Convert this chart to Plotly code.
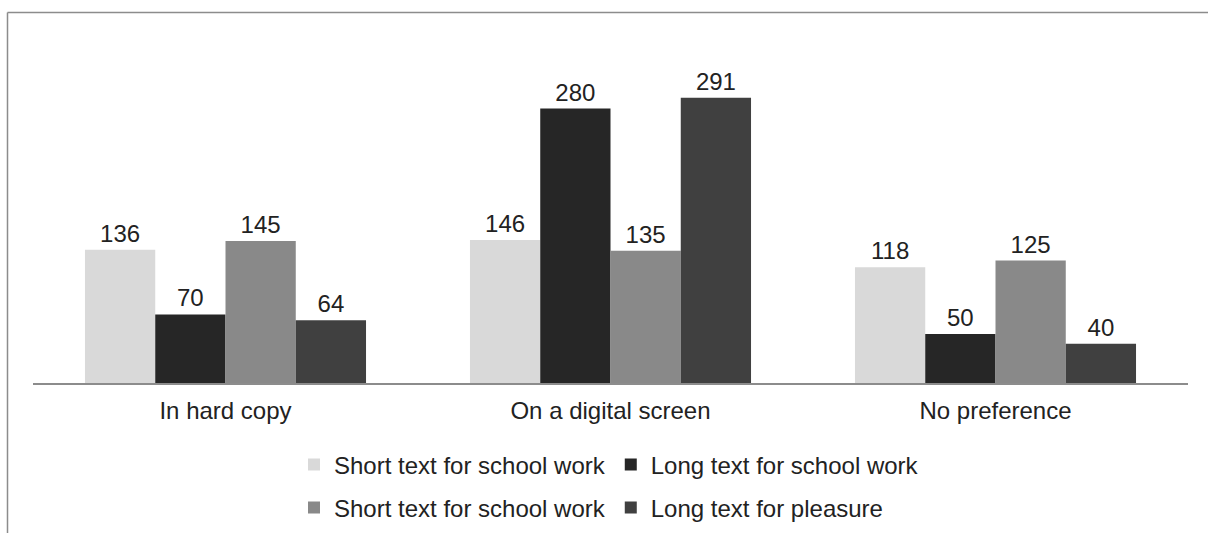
import plotly.graph_objects as go

categories = ["In hard copy", "On a digital screen", "No preference"]
series_names = ["Short text for school work", "Long text for school work",
                "Short text for school work", "Long text for pleasure"]
short_school_a = [136, 146, 118]
long_school = [70, 280, 50]
short_school_b = [145, 135, 125]
long_pleasure = [64, 291, 40]
series_values = [short_school_a, long_school, short_school_b, long_pleasure]
colors = ["#d9d9d9", "#262626", "#898989", "#404040"]
legend_ids = ["legend", "legend", "legend2", "legend2"]

W, H = 1208, 533
AXIS_Y = 383
ML, MR, MT = 33, 20, 40
MB = H - AXIS_Y
PW, PH = W - ML - MR, H - MT - MB

def px_x(x):
    return (x - ML) / PW

def px_y(y):
    return (H - MB - y) / PH

FONT = "Liberation Sans, Arial, sans-serif"
TXT = "#222222"
FS = 24

fig = go.Figure()
for name, vals, col, lg in zip(series_names, series_values, colors, legend_ids):
    fig.add_trace(go.Bar(
        x=categories, y=vals, name=name, marker=dict(color=col, line=dict(width=0)),
        text=[str(v) for v in vals], textposition="outside",
        textfont=dict(size=FS, color=TXT, family=FONT),
        cliponaxis=False, legend=lg,
    ))

fig.update_layout(
    width=W, height=H, autosize=False,
    margin=dict(l=ML, r=MR, t=MT, b=MB, autoexpand=False),
    paper_bgcolor="white", plot_bgcolor="white",
    barmode="group", bargap=0.27, bargroupgap=0,
    font=dict(family=FONT, size=FS, color=TXT),
    showlegend=True,
    legend=dict(orientation="h", x=px_x(294), xanchor="left", y=px_y(465), yanchor="middle",
                font=dict(size=FS, color=TXT, family=FONT), itemwidth=30,
                bgcolor="rgba(0,0,0,0)", tracegroupgap=0),
    legend2=dict(orientation="h", x=px_x(294), xanchor="left", y=px_y(508), yanchor="middle",
                 font=dict(size=FS, color=TXT, family=FONT), itemwidth=30,
                 bgcolor="rgba(0,0,0,0)", tracegroupgap=0),
    xaxis=dict(showline=True, linecolor="#8c8c8c", linewidth=1.5, ticks="",
               ticklabelstandoff=5,
               tickfont=dict(size=FS, color=TXT, family=FONT), showgrid=False),
    yaxis=dict(range=[0, 350], visible=False, showgrid=False, zeroline=False),
    shapes=[
        dict(type="line", xref="paper", yref="paper",
             x0=px_x(7.5), x1=px_x(1210), y0=px_y(12.5), y1=px_y(12.5),
             line=dict(color="#8c8c8c", width=1.5)),
        dict(type="line", xref="paper", yref="paper",
             x0=px_x(7.5), x1=px_x(7.5), y0=px_y(12.5), y1=px_y(540),
             line=dict(color="#8c8c8c", width=1.5)),
    ],
)

post = ("document.documentElement.style.margin='0';"
        "document.documentElement.style.overflow='hidden';"
        "document.body.style.margin='0';"
        "document.body.style.overflow='hidden';")
fig.write_html("out.html", post_script=post,
               config={"displayModeBar": False, "responsive": False})
